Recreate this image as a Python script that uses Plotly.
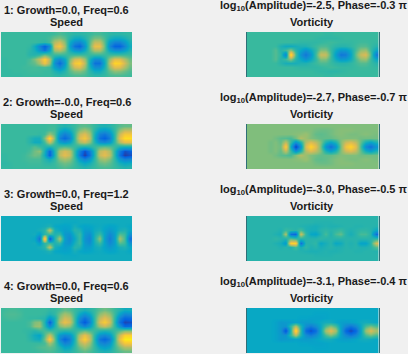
import plotly.graph_objects as go

W, H = 408, 354
LEFT_TITLES = ["1: Growth=0.0, Freq=0.6", "2: Growth=-0.0, Freq=0.6", "3: Growth=0.0, Freq=1.2", "4: Growth=0.0, Freq=0.6"]
AMPLITUDES = ["-2.5", "-2.7", "-3.0", "-3.1"]
PHASES = ["-0.3", "-0.7", "-0.5", "-0.4"]

PARULA = [[0, "#352a87"], [0.125, "#0363e1"], [0.25, "#1485d4"], [0.375, "#06a7c6"], [0.5, "#38b99e"],
          [0.625, "#92bf73"], [0.75, "#d9ba56"], [0.875, "#fcce2e"], [1, "#f9fb0e"]]

SPEED_1 = [
[50,50,50,50,50,50,50,50,50,50,50,51,53,51,49,47,47,48,50,52,52,50,48,47,47,48,49],
[50,50,50,50,50,50,50,50,50,50,52,58,60,55,46,40,39,44,52,59,59,52,43,39,39,42,47],
[50,50,50,50,50,50,50,50,49,48,52,68,74,61,40,28,25,36,54,71,71,54,33,24,24,32,43],
[50,50,50,50,50,50,49,40,25,12,28,76,84,66,36,18,14,30,56,80,80,56,26,13,13,24,40],
[50,50,50,50,50,50,47,42,30,18,36,66,70,60,42,31,28,38,54,68,68,54,36,28,28,34,44],
[50,50,50,50,50,50,46,45,48,56,50,50,50,50,50,50,50,50,50,50,50,50,50,50,50,50,50],
[49,49,50,50,50,50,52,60,72,88,68,35,26,37,58,74,77,64,43,28,28,43,64,78,77,67,57],
[49,49,50,50,50,50,53,56,66,82,64,28,16,32,62,84,88,70,40,18,18,40,70,90,88,74,60],
[49,49,50,50,50,51,51,52,51,52,50,35,26,38,58,74,77,64,43,28,28,43,64,78,77,67,57],
[49,49,49,50,50,50,51,51,51,50,50,44,40,45,54,60,61,56,47,40,40,47,56,62,61,57,53],
[49,49,49,49,49,50,50,50,50,50,50,48,47,49,51,53,53,52,49,47,47,49,52,53,53,52,51],
]
SPEED_2 = [
[50,50,50,50,50,50,50,50,50,50,51,51,47,45,47,50,54,55,53,49,45,44,46,50,54,56,56],
[50,50,50,50,50,50,50,50,50,50,52,52,41,35,40,50,60,65,59,46,36,33,38,49,62,70,70],
[50,50,50,50,50,50,50,50,49,51,64,54,32,23,30,50,71,77,66,42,24,20,28,48,72,84,84],
[50,50,50,50,50,50,46,42,42,60,92,58,24,15,24,50,76,84,70,40,18,12,22,48,78,92,92],
[50,50,50,50,50,50,46,40,40,52,72,52,36,30,36,50,66,72,62,44,30,26,32,49,68,78,78],
[50,50,50,50,50,50,50,54,50,46,44,48,52,54,52,50,46,44,46,50,54,56,54,50,44,42,42],
[50,50,50,50,50,50,52,58,62,42,14,45,68,75,70,48,24,8,22,46,70,75,68,46,22,8,12],
[49,49,50,50,50,51,54,58,56,40,12,44,70,78,72,48,20,4,18,46,72,78,70,46,18,4,8],
[49,49,50,50,50,51,52,52,52,46,40,48,61,66,62,50,34,24,32,48,62,66,60,48,32,24,26],
[48,48,49,50,50,50,51,51,51,48,47,50,55,58,56,50,43,38,42,49,56,58,55,49,42,38,40],
[49,49,49,50,50,50,50,50,50,50,50,50,52,54,52,50,47,45,47,50,52,53,52,50,47,45,46],
]
SPEED_3 = [
[40,40,40,40,40,40,40,40,40,40,40,40,40,40,40,40,40,40,40,40,40,40,40,40,40,40,40],
[40,40,40,40,40,40,40,40,40,40,40,40,40,39,39,39,40,40,40,40,40,40,40,40,40,40,40],
[40,40,40,40,40,40,40,40,40,41,44,38,37,36,37,42,38,36,37,39,40,38,36,37,40,40,38],
[40,40,40,40,40,40,40,40,42,46,70,42,38,34,36,46,44,34,34,40,42,36,32,36,42,44,38],
[40,40,40,40,40,40,40,41,34,48,50,44,48,32,30,42,50,32,28,42,50,36,26,34,54,50,30],
[40,40,40,40,40,40,40,38,18,95,8,45,66,34,26,38,50,30,24,44,62,34,22,34,66,52,18],
[40,40,40,40,40,40,40,41,34,48,50,44,48,32,30,42,50,32,28,42,50,36,26,34,54,50,30],
[40,40,40,40,40,40,40,40,42,46,70,42,38,34,36,46,44,34,34,40,42,36,32,36,42,44,38],
[40,40,40,40,40,40,40,40,40,41,44,38,37,36,37,42,38,36,37,39,40,38,36,37,40,40,38],
[40,40,40,40,40,40,40,40,40,40,40,40,40,39,39,39,40,40,40,40,40,40,40,40,40,40,40],
[40,40,40,40,40,40,40,40,40,40,40,40,40,40,40,40,40,40,40,40,40,40,40,40,40,40,40],
]
SPEED_4 = [
[50,51,52,52,51,50,50,50,50,50,48,49,52,56,54,50,46,43,46,50,55,58,55,50,45,40,41],
[50,52,53,53,52,50,50,50,50,49,44,48,58,66,62,50,38,30,38,50,62,68,62,50,36,26,28],
[50,51,52,52,51,50,49,49,48,46,32,42,62,74,70,50,28,18,28,50,70,78,70,48,24,14,16],
[50,50,50,50,50,50,52,60,62,44,12,42,68,80,74,50,22,10,24,50,76,86,74,46,18,6,8],
[50,50,50,50,50,50,52,62,64,46,26,44,60,66,62,48,34,24,34,50,66,72,64,48,30,14,16],
[50,50,50,50,50,49,48,46,50,52,50,50,48,46,47,48,52,56,52,50,46,44,46,50,54,60,60],
[50,50,50,50,50,50,46,40,36,54,72,52,32,26,30,46,68,80,68,46,30,26,32,50,72,88,88],
[50,50,50,50,50,50,47,42,40,58,88,56,26,14,22,44,74,88,72,44,20,14,22,48,80,96,96],
[50,50,50,50,50,50,50,50,50,52,66,54,36,24,28,46,66,74,64,46,28,24,30,50,70,84,84],
[50,50,50,50,50,50,50,51,53,54,56,53,44,36,38,48,58,64,58,48,38,34,38,50,60,68,68],
[50,50,50,50,50,50,50,50,51,52,53,51,48,44,45,49,53,56,53,49,45,43,45,50,54,57,57],
]
VORT_1 = [
[50,50,50,50,50,50,50,50,50,50,50,50,50,50,50,50,49,49,50,50,50,50,50,50,50,50,50],
[50,50,50,50,50,50,50,50,50,50,50,50,50,50,49,48,48,48,48,49,50,50,50,50,50,50,50],
[50,50,50,50,50,50,50,50,50,50,49,48,48,48,48,49,50,51,50,49,49,49,50,51,51,50,49],
[50,50,50,50,50,50,50,44,40,40,42,44,44,47,50,53,53,50,47,46,46,48,51,54,54,50,46],
[50,50,50,50,50,50,54,46,50,62,46,38,30,38,48,60,60,50,40,32,33,40,52,62,64,50,38],
[50,50,50,50,50,50,54,48,24,95,52,30,20,30,50,72,72,52,34,20,22,36,56,72,76,54,22],
[50,50,50,50,50,50,54,46,50,62,46,38,30,38,48,60,60,50,40,32,33,40,52,62,64,50,38],
[50,50,50,50,50,50,50,46,42,42,42,44,44,47,50,53,53,50,47,46,46,48,51,54,54,50,46],
[50,50,50,50,50,50,50,50,50,50,49,48,48,48,48,49,50,51,50,49,49,49,50,51,51,50,49],
[50,50,50,50,50,50,50,50,50,50,50,50,50,50,49,48,48,47,47,48,49,50,50,50,50,50,50],
[50,50,50,50,50,50,50,50,50,50,50,50,50,50,50,50,49,49,50,50,50,50,50,50,50,50,50],
]
VORT_2 = [
[60,60,60,60,60,60,60,60,60,60,60,60,60,60,60,60,60,60,60,60,60,60,60,60,60,60,60],
[60,60,60,60,60,60,60,60,60,60,60,60,60,60,58,57,57,58,60,61,61,61,60,60,60,60,60],
[60,60,60,60,60,60,60,60,60,60,61,62,64,60,56,55,56,58,60,61,60,59,59,60,61,60,59],
[60,60,60,60,60,60,58,55,54,52,58,68,64,60,58,56,56,56,58,60,60,60,60,58,58,58,58],
[60,60,60,60,60,58,60,56,70,50,30,45,68,76,70,60,44,36,44,60,72,76,70,56,42,36,44],
[60,60,60,60,60,58,60,58,88,40,4,30,75,90,78,58,30,18,30,58,82,90,78,52,26,18,30],
[60,60,60,60,60,58,60,56,70,50,30,45,68,76,70,60,44,36,44,60,72,76,70,56,42,36,44],
[60,60,60,60,60,60,58,55,54,52,60,68,64,60,58,56,56,56,58,60,60,60,60,58,58,58,58],
[60,60,60,60,60,60,60,60,60,60,61,62,64,60,56,55,56,58,60,61,60,59,59,60,61,60,59],
[60,60,60,60,60,60,60,60,60,60,60,60,60,60,58,57,57,58,60,61,61,61,60,60,60,60,60],
[60,60,60,60,60,60,60,60,60,60,60,60,60,60,60,60,60,60,60,60,60,60,60,60,60,60,60],
]
VORT_3 = [
[46,46,46,46,46,46,46,46,46,46,46,46,46,46,46,46,46,46,46,46,46,46,46,46,46,46,46],
[46,46,46,46,46,46,46,46,46,46,46,46,46,46,45,45,45,45,46,46,46,46,46,46,46,46,46],
[46,46,46,46,46,46,46,46,46,46,46,45,44,43,42,44,45,44,44,45,46,46,45,45,46,46,45],
[46,46,46,46,46,46,46,44,50,48,46,52,44,42,42,46,48,46,48,50,46,44,46,48,48,46,38],
[46,46,46,46,46,46,44,42,68,18,14,74,48,38,36,44,52,44,52,56,46,42,46,52,52,46,18],
[46,46,46,46,46,46,48,46,44,55,50,46,46,46,46,48,46,46,46,46,46,46,46,46,46,46,48],
[46,46,46,46,46,46,44,42,32,88,90,16,46,46,48,38,42,46,38,40,46,44,46,36,36,46,74],
[46,46,46,46,46,46,46,44,46,44,52,42,48,44,46,42,44,46,44,44,46,45,46,44,44,46,54],
[46,46,46,46,46,46,46,46,46,46,46,45,44,43,43,44,45,44,44,45,46,46,45,45,46,46,45],
[46,46,46,46,46,46,46,46,46,46,46,46,46,46,45,45,45,45,46,46,46,46,46,46,46,46,46],
[46,46,46,46,46,46,46,46,46,46,46,46,46,46,46,46,46,46,46,46,46,46,46,46,46,46,46],
]
VORT_4 = [
[38,38,38,38,38,38,38,38,38,38,38,38,38,38,38,38,38,38,38,38,38,38,38,38,38,38,38],
[38,38,38,38,38,38,38,38,38,38,38,38,38,38,37,37,37,38,38,38,38,38,38,38,38,38,38],
[38,38,38,38,38,38,38,38,38,38,38,37,37,36,36,36,37,38,38,38,38,38,38,38,38,38,38],
[38,38,38,38,38,38,36,32,33,34,36,34,33,34,36,39,41,41,38,35,34,35,37,40,41,40,38],
[38,38,38,38,38,38,36,32,30,48,68,44,28,22,28,38,52,60,52,36,26,20,26,38,52,58,52],
[38,38,38,38,38,38,36,30,8,45,94,48,16,8,16,38,66,78,66,36,14,6,14,36,64,76,66],
[38,38,38,38,38,38,36,32,30,48,68,44,28,22,28,38,52,60,52,36,26,20,26,38,52,58,52],
[38,38,38,38,38,38,36,32,33,34,36,34,33,34,36,39,41,41,38,35,34,35,37,40,41,40,38],
[38,38,38,38,38,38,38,38,38,38,38,37,37,36,36,36,37,38,38,38,38,38,38,38,38,38,38],
[38,38,38,38,38,38,38,38,38,38,38,38,38,38,37,37,37,38,38,38,38,38,38,38,38,38,38],
[38,38,38,38,38,38,38,38,38,38,38,38,38,38,38,38,38,38,38,38,38,38,38,38,38,38,38],
]

SPEEDS = [SPEED_1, SPEED_2, SPEED_3, SPEED_4]
VORTS = [VORT_1, VORT_2, VORT_3, VORT_4]
TOPS = [32, 124, 216, 308]
PANEL_H = 45
LEFT_X = (1, 132)
RIGHT_X = (247, 378.5)
FONT = "Liberation Sans"

fig = go.Figure()
annotations = []


def add_panel(n, z, xpx, top, edge):
    xname = "x" if n == 1 else f"x{n}"
    yname = "y" if n == 1 else f"y{n}"
    fig.add_trace(go.Heatmap(z=z, xaxis=xname, yaxis=yname, zmin=0, zmax=100, zsmooth="best",
                             colorscale=PARULA, showscale=False, hoverinfo="skip"))
    xkey = "xaxis" if n == 1 else f"xaxis{n}"
    ykey = "yaxis" if n == 1 else f"yaxis{n}"
    fig.update_layout({
        xkey: dict(domain=[xpx[0] / W, xpx[1] / W], range=[0.3, 26.5], anchor=yname, showticklabels=False,
                   ticks="", showgrid=False, zeroline=False),
        ykey: dict(domain=[1 - (top + PANEL_H) / H, 1 - top / H], range=[10.5, -0.5], anchor=xname,
                   showticklabels=False, ticks="", showgrid=False, zeroline=False,
                   showline=edge, linecolor="#2f6f78", linewidth=1, mirror=edge),
    })


def add_text(text, cx, y_px):
    annotations.append(dict(text=text, x=cx / W, y=1 - y_px / H, xref="paper", yref="paper", xanchor="center",
                            yanchor="middle", showarrow=False,
                            font=dict(family=FONT, size=11, color="#1a1a1a", weight="bold")))


for i in range(4):
    top = TOPS[i]
    add_panel(2 * i + 1, SPEEDS[i], LEFT_X, top, False)
    add_panel(2 * i + 2, VORTS[i], RIGHT_X, top, True)
    add_text(LEFT_TITLES[i], 66.5, top - 22)
    add_text("Speed", 66.5, top - 10)
    add_text(f"log<sub>10</sub>(Amplitude)={AMPLITUDES[i]}, Phase={PHASES[i]} π", 313, top - 26)
    add_text("Vorticity", 312, top - 10)

fig.update_layout(width=W, height=H, margin=dict(l=0, r=0, t=0, b=0), paper_bgcolor="#f0f0f0",
                  plot_bgcolor="#f0f0f0", showlegend=False, annotations=annotations)
fig.write_html("out.html", config={"displayModeBar": False},
               post_script="document.body.style.margin='0';document.body.style.background='#f0f0f0';")
